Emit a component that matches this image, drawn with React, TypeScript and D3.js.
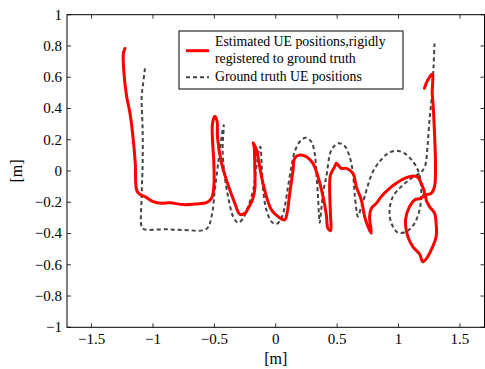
import React from 'react';
import * as d3 from 'd3';

// ground-truth and estimated UE tracks, [x, y] in metres
const estimated: [number, number][] = [
  [-1.228, 0.784], [-1.241, 0.752], [-1.236, 0.624], [-1.214, 0.475], [-1.187, 0.369], [-1.16, 0.198],
  [-1.144, 0.049], [-1.133, -0.121], [-1.111, -0.147], [-1.065, -0.164], [-0.998, -0.196], [-0.929, -0.207],
  [-0.862, -0.203], [-0.754, -0.215], [-0.645, -0.211], [-0.564, -0.203], [-0.523, -0.175], [-0.504, -0.1],
  [-0.504, 0.049], [-0.515, 0.198], [-0.515, 0.305], [-0.496, 0.35], [-0.477, 0.315], [-0.475, 0.22],
  [-0.441, 0.049], [-0.388, -0.09], [-0.333, -0.207], [-0.293, -0.277], [-0.252, -0.271], [-0.217, -0.228],
  [-0.19, -0.185], [-0.171, -0.121], [-0.171, 0.028], [-0.176, 0.155], [-0.184, 0.181], [-0.157, 0.134],
  [-0.116, -0.036], [-0.076, -0.164], [-0.035, -0.249], [0.019, -0.292], [0.073, -0.313], [0.092, -0.27],
  [0.114, -0.143], [0.141, 0.006], [0.154, 0.081], [0.195, 0.102], [0.25, 0.091], [0.303, 0.049],
  [0.344, -0.036], [0.385, -0.164], [0.412, -0.281], [0.425, -0.367], [0.447, -0.382], [0.445, -0.27],
  [0.439, -0.1], [0.445, -0.026], [0.48, 0.028], [0.493, 0.049], [0.534, 0.017], [0.575, 0.017],
  [0.629, -0.015], [0.656, -0.1], [0.697, -0.185], [0.724, -0.292], [0.751, -0.356], [0.778, -0.399],
  [0.764, -0.292], [0.778, -0.239], [0.819, -0.207], [0.859, -0.164], [0.913, -0.121], [0.981, -0.079],
  [1.049, -0.047], [1.116, -0.032], [1.157, -0.04], [1.184, -0.079], [1.211, -0.143], [1.184, -0.175],
  [1.13, -0.185], [1.089, -0.228], [1.057, -0.313], [1.076, -0.42], [1.116, -0.484], [1.171, -0.531],
  [1.198, -0.58], [1.238, -0.548], [1.266, -0.505], [1.306, -0.42], [1.306, -0.335], [1.293, -0.27],
  [1.252, -0.228], [1.225, -0.185], [1.225, -0.153], [1.266, -0.143], [1.293, -0.1], [1.301, 0.028],
  [1.293, 0.241], [1.279, 0.454], [1.274, 0.497], [1.279, 0.603], [1.274, 0.62], [1.238, 0.582],
  [1.211, 0.529],
];

const groundTruth: [number, number][] = [
  [-1.065, 0.657], [-1.08, 0.56], [-1.092, 0.475], [-1.084, 0.262], [-1.084, 0.049], [-1.092, -0.164],
  [-1.092, -0.356], [-1.071, -0.373], [-0.9, -0.373], [-0.75, -0.377], [-0.564, -0.371], [-0.523, -0.292],
  [-0.496, -0.121], [-0.469, 0.049], [-0.441, 0.219], [-0.423, 0.294], [-0.433, 0.134], [-0.415, -0.036],
  [-0.388, -0.164], [-0.347, -0.292], [-0.306, -0.331], [-0.266, -0.302], [-0.225, -0.228], [-0.184, -0.121],
  [-0.157, 0.028], [-0.136, 0.134], [-0.125, 0.155], [-0.115, 0.05], [-0.103, -0.121], [-0.076, -0.249],
  [-0.035, -0.324], [0.005, -0.339], [0.046, -0.302], [0.073, -0.228], [0.1, -0.1], [0.128, 0.028],
  [0.154, 0.123], [0.195, 0.187], [0.244, 0.213], [0.29, 0.187], [0.317, 0.113], [0.331, -0.015],
  [0.344, -0.164], [0.352, -0.281], [0.358, -0.331], [0.37, -0.25], [0.39, -0.12], [0.412, -0.036],
  [0.453, 0.134], [0.507, 0.177], [0.561, 0.16], [0.602, 0.091], [0.629, -0.015], [0.642, -0.143],
  [0.661, -0.27], [0.669, -0.292], [0.697, -0.228], [0.724, -0.164], [0.751, -0.09], [0.791, -0.004],
  [0.846, 0.06], [0.913, 0.113], [0.981, 0.13], [1.049, 0.113], [1.103, 0.074], [1.15, 0.02],
  [1.18, -0.06], [1.184, -0.164], [1.171, -0.249], [1.13, -0.335], [1.063, -0.388], [0.994, -0.394],
  [0.94, -0.33], [0.927, -0.249], [0.954, -0.164], [1.022, -0.1], [1.103, -0.047], [1.18, -0.01],
  [1.215, 0.03], [1.238, 0.177], [1.252, 0.326], [1.266, 0.433], [1.274, 0.497], [1.285, 0.667],
  [1.293, 0.816],
];

const xTicks = [-1.5, -1, -0.5, 0, 0.5, 1, 1.5];
const yTicks = [-1, -0.8, -0.6, -0.4, -0.2, 0, 0.2, 0.4, 0.6, 0.8, 1];
const legendLabels = ['Estimated UE positions,rigidly', 'registered to ground truth', 'Ground truth UE positions'];

const W = 485;
const H = 369;
const left = 67, right = 484.5, top = 14.7, bottom = 327.3;
const FONT = 'Liberation Serif';

const fmt = (v: number) => {
  const s = String(Math.abs(v));
  return v < 0 ? '\u2212' + s : s;
};

export default function App() {
  const x = d3.scaleLinear().domain([-1.7, 1.7]).range([left, right]);
  const y = d3.scaleLinear().domain([-1, 1]).range([bottom, top]);
  const line = d3.line<[number, number]>()
    .x(d => x(d[0]))
    .y(d => y(d[1]))
    .curve(d3.curveCatmullRom.alpha(0.5));

  const tl = 4;

  return (
    <svg width={W} height={H} style={{ position: 'absolute', left: 0, top: 0, background: '#fff', fontFamily: FONT }}>
      <path d={line(groundTruth) || ''} fill="none" stroke="#444" strokeWidth={2} strokeDasharray="4 3" />
      <path d={line(estimated) || ''} fill="none" stroke="#ff0000" strokeWidth={3} strokeLinejoin="round" strokeLinecap="round" />

      {/* ticks, mirrored on all four sides */}
      {xTicks.map(t => (
        <g key={'x' + t}>
          <line x1={x(t)} x2={x(t)} y1={bottom} y2={bottom - tl} stroke="#000" strokeWidth={0.8} />
          <line x1={x(t)} x2={x(t)} y1={top} y2={top + tl} stroke="#000" strokeWidth={0.8} />
          <text x={x(t)} y={bottom + 17} textAnchor="middle" style={{ fontFamily: FONT, fontSize: 15 }}>{fmt(t)}</text>
        </g>
      ))}
      {yTicks.map(t => (
        <g key={'y' + t}>
          <line x1={left} x2={left + tl} y1={y(t)} y2={y(t)} stroke="#000" strokeWidth={0.8} />
          <line x1={right} x2={right - tl} y1={y(t)} y2={y(t)} stroke="#000" strokeWidth={0.8} />
          <text x={left - 5} y={y(t)} dy="0.33em" textAnchor="end" style={{ fontFamily: FONT, fontSize: 15 }}>{fmt(t)}</text>
        </g>
      ))}

      <rect x={left} y={top} width={right - left} height={bottom - top} fill="none" stroke="#000" strokeWidth={1} />

      <text x={x(0)} y={364} textAnchor="middle" style={{ fontFamily: FONT, fontSize: 16 }}>[m]</text>
      <text transform={`translate(22,${y(0)}) rotate(-90)`} textAnchor="middle" style={{ fontFamily: FONT, fontSize: 16 }}>[m]</text>

      {/* legend */}
      <rect x={179} y={31} width={224} height={58} fill="#fff" stroke="#000" strokeWidth={1} />
      <line x1={186} x2={209} y1={50.7} y2={50.7} stroke="#ff0000" strokeWidth={3} />
      <line x1={186} x2={209} y1={77.3} y2={77.3} stroke="#444" strokeWidth={2} strokeDasharray="4 3" />
      {legendLabels.map((s, i) => (
        <text key={s} x={215} y={[46, 63, 81][i]} style={{ fontFamily: FONT, fontSize: 13.8 }}>{s}</text>
      ))}
    </svg>
  );
}
